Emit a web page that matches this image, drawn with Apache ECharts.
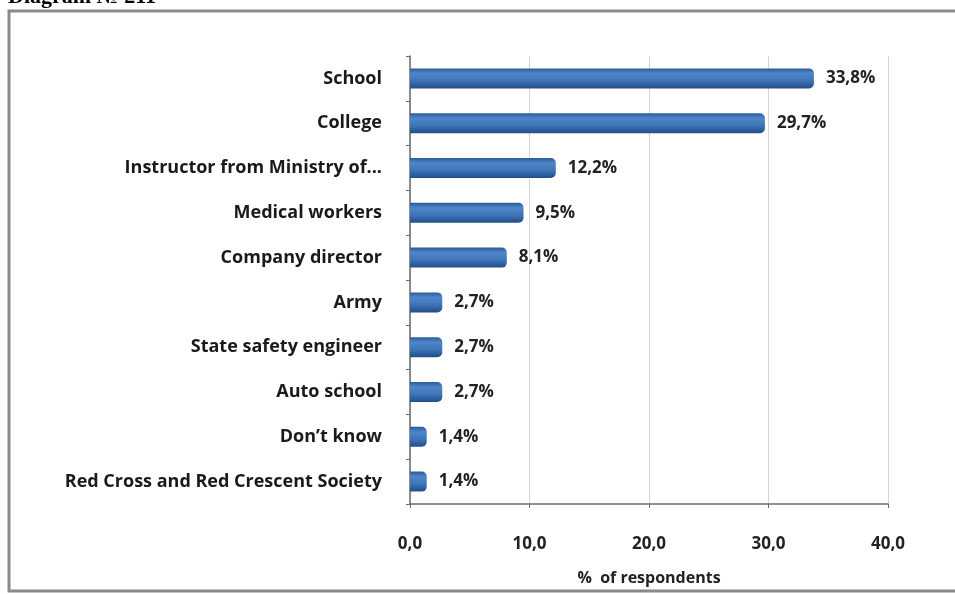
<!DOCTYPE html>
<html>
<head>
<meta charset="utf-8">
<script src="https://cdn.jsdelivr.net/npm/echarts@6/dist/echarts.min.js"></script>
<style>
  html, body { margin: 0; padding: 0; background: #fff; }
  #chart { width: 955px; height: 594px; }
</style>
</head>
<body>
<div id="chart"></div>
<script>
// categories listed bottom to top (ECharts category y-axis starts at the bottom)
const categories = [
  'Red Cross and Red Crescent Society',
  'Don\u2019t know',
  'Auto school',
  'State safety engineer',
  'Army',
  'Company director',
  'Medical workers',
  'Instructor from Ministry of...',
  'College',
  'School'
];
const values = [1.4, 1.4, 2.7, 2.7, 2.7, 8.1, 9.5, 12.2, 29.7, 33.8];
const xTicks = [0, 10, 20, 30, 40];

const fmt = (v) => Number(v).toFixed(1).replace('.', ',');

const chart = echarts.init(document.getElementById('chart'), null, { renderer: 'canvas' });

const font = '"Open Sans", Lato, sans-serif';

const option = {
  backgroundColor: '#fff',
  animation: false,
  graphic: [
    {
      type: 'rect',
      shape: { x: 9, y: 11, width: 960, height: 580 },
      style: { fill: 'none', stroke: '#8a8a8a', lineWidth: 3 }
    },
    {
      type: 'text',
      left: 8,
      top: -14,
      style: {
        text: 'Diagram \u2116 211',
        font: 'bold 22px "Liberation Serif", serif',
        fill: '#000'
      }
    }
  ],
  grid: { left: 410, right: 67, top: 56, bottom: 90 },
  xAxis: {
    type: 'value',
    min: xTicks[0],
    max: xTicks[xTicks.length - 1],
    interval: 10,
    name: '%  of respondents',
    nameLocation: 'middle',
    nameGap: 66,
    nameTextStyle: { fontFamily: font, fontWeight: 'bold', fontSize: 16, color: '#222' },
    axisLine: { show: true, lineStyle: { color: '#6b6b6b', width: 1.5 } },
    axisTick: { show: true, length: 4, lineStyle: { color: '#6b6b6b' } },
    axisLabel: {
      margin: 32,
      fontFamily: font,
      fontWeight: 'bold',
      fontSize: 17,
      color: '#222',
      formatter: (v) => fmt(v)
    },
    splitLine: { show: true, lineStyle: { color: '#d4d4d4', width: 1 } }
  },
  yAxis: {
    type: 'category',
    data: categories,
    axisLine: { show: true, lineStyle: { color: '#6b6b6b', width: 1.5 } },
    axisTick: { show: true, length: 4, lineStyle: { color: '#6b6b6b' } },
    axisLabel: {
      margin: 28,
      fontFamily: font,
      fontWeight: 'bold',
      fontSize: 18,
      color: '#1a1a1a'
    }
  },
  series: [
    {
      type: 'bar',
      data: values,
      barWidth: 20,
      itemStyle: {
        color: new echarts.graphic.LinearGradient(0, 0, 0, 1, [
          { offset: 0, color: '#2b5a9a' },
          { offset: 0.25, color: '#4f86c8' },
          { offset: 0.6, color: '#3f76bb' },
          { offset: 1, color: '#234d88' }
        ]),
        borderRadius: [0, 5, 5, 0]
      },
      label: {
        show: true,
        position: 'right',
        distance: 12,
        fontFamily: font,
        fontWeight: 'bold',
        fontSize: 17,
        color: '#222',
        formatter: (p) => fmt(p.value) + '%'
      }
    }
  ]
};

chart.setOption(option);
</script>
</body>
</html>
